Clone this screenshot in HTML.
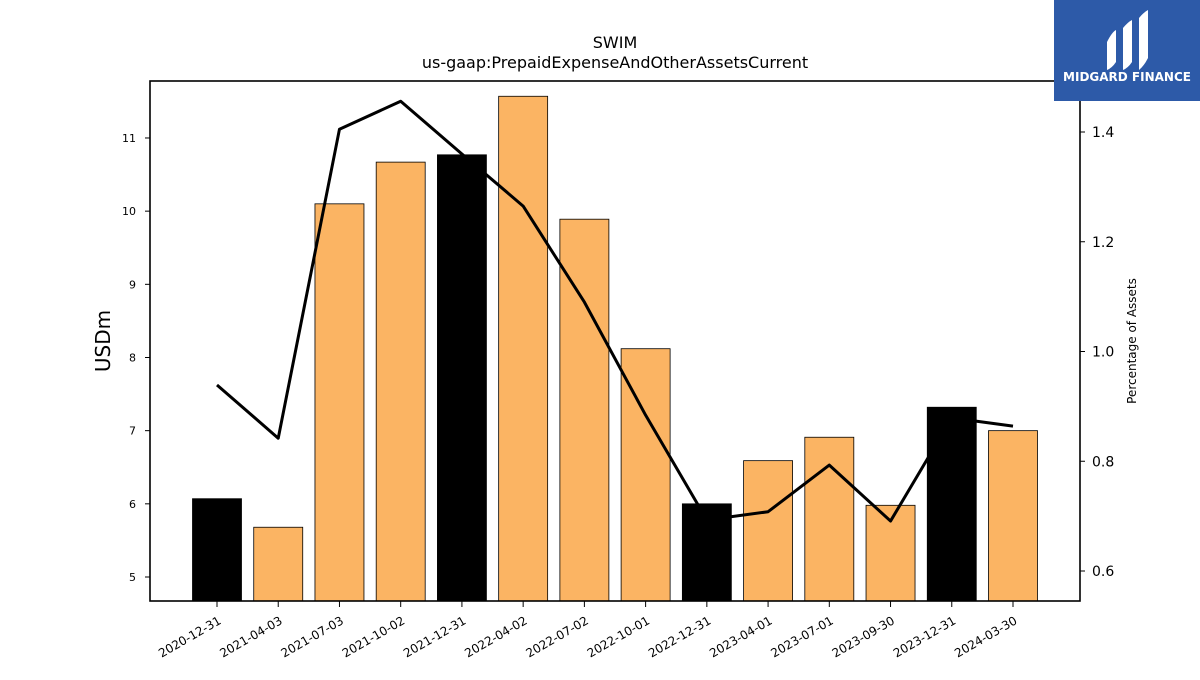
<!DOCTYPE html>
<html><head><meta charset="utf-8"><style>
html,body{margin:0;padding:0;background:#fff;}
svg text{font-family:"DejaVu Sans","Liberation Sans",sans-serif;}
</style></head><body>
<svg id="chart" width="1200" height="675" xmlns="http://www.w3.org/2000/svg">
<text x="615" y="48" text-anchor="middle" font-size="16">SWIM</text>
<text x="615" y="68" text-anchor="middle" font-size="16">us-gaap:PrepaidExpenseAndOtherAssetsCurrent</text>
<g id="bars"></g>
<g id="line"></g>
<rect x="150" y="81" width="930" height="520" fill="none" stroke="#000" stroke-width="1.6"/>
<g id="axes"></g>
<text transform="translate(110,341) rotate(-90)" text-anchor="middle" font-size="20">USDm</text>
<text transform="translate(1136,341) rotate(-90)" text-anchor="middle" font-size="12">Percentage of Assets</text>
<g>
<rect x="1054" y="0" width="146" height="101" fill="#2d5aa8"/>
<path d="M1107 42 Q1112 32 1116 30 L1116 62 Q1112 68 1107 70 Z M1123 28 Q1128 22 1132 20 L1132 62 Q1128 68 1123 70 Z M1139 18 Q1144 12 1148 10 L1148 58 Q1144 66 1139 70 Z" fill="#fff"/>
<text x="1127" y="81" text-anchor="middle" font-size="12" font-weight="bold" fill="#fff">MIDGARD FINANCE</text>
</g>
</svg>
<script>
const categories=["2020-12-31","2021-04-03","2021-07-03","2021-10-02","2021-12-31","2022-04-02","2022-07-02","2022-10-01","2022-12-31","2023-04-01","2023-07-01","2023-09-30","2023-12-31","2024-03-30"];
const barValues=[6.07,5.68,10.10,10.67,10.77,11.57,9.89,8.12,6.00,6.59,6.91,5.98,7.32,7.00];
const annual=[true,false,false,false,true,false,false,false,true,false,false,false,true,false];
const pctValues=[0.939,0.842,1.405,1.456,1.36,1.265,1.090,0.884,0.693,0.708,0.793,0.691,0.879,0.864];
const leftTicks=[5,6,7,8,9,10,11];
const rightTicks=[0.6,0.8,1.0,1.2,1.4];
const NS="http://www.w3.org/2000/svg";
const X0=150,X1=1080,Y0=81,Y1=601;
const yL=v=>577-(v-5)*73.17;
const yR=v=>571-(v-0.6)*548.75;
const step=(1013-217)/(categories.length-1);
const xC=i=>217+i*step;
const bw=49;
function mk(t,a,p){const e=document.createElementNS(NS,t);for(const k in a)e.setAttribute(k,a[k]);p.appendChild(e);return e;}
const bars=document.getElementById('bars'),line=document.getElementById('line'),axes=document.getElementById('axes');
barValues.forEach((v,i)=>{
  const y=yL(v);
  const r=mk('rect',{x:xC(i)-bw/2,y:y,width:bw,height:Y1-y,fill:annual[i]?'#000':'#fbb463',stroke:'#000','stroke-width':0.8},bars);
  
  
});
const pl=mk('polyline',{points:pctValues.map((v,i)=>xC(i)+','+yR(v)).join(' '),fill:'none',stroke:'#000','stroke-width':3,'stroke-linejoin':'round'},line);


leftTicks.forEach(v=>{
  const y=yL(v);
  mk('line',{x1:X0-5,x2:X0,y1:y,y2:y,stroke:'#000','stroke-width':1},axes);
  const t=mk('text',{x:X0-14,y:y+4,'text-anchor':'end','font-size':11},axes);
  t.textContent=v;
  
  
});
rightTicks.forEach(v=>{
  const y=yR(v);
  mk('line',{x1:X1,x2:X1+5,y1:y,y2:y,stroke:'#000','stroke-width':1},axes);
  const t=mk('text',{x:X1+12,y:y+5,'font-size':14},axes);
  t.textContent=v.toFixed(1);
  
  
});
categories.forEach((c,i)=>{
  const x=xC(i);
  mk('line',{x1:x,x2:x,y1:Y1,y2:Y1+6,stroke:'#000','stroke-width':1},axes);
  const t=mk('text',{transform:`translate(${x+5},${Y1+22}) rotate(-30)`,'text-anchor':'end','font-size':12},axes);
  t.textContent=c;
  
  
});
</script>
</body></html>
